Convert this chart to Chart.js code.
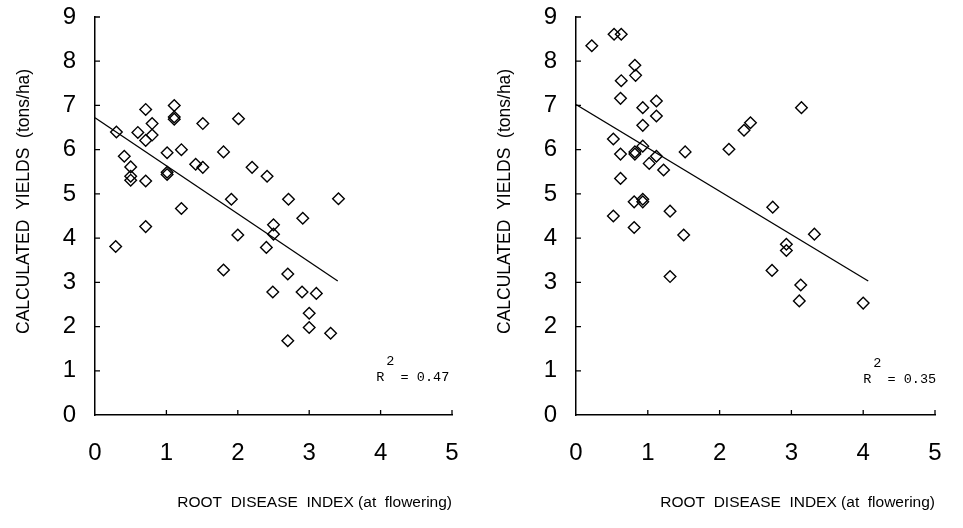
<!DOCTYPE html>
<html><head><meta charset="utf-8">
<script src="https://cdn.jsdelivr.net/npm/chart.js@4/dist/chart.umd.min.js"></script>
<style>
html,body{margin:0;padding:0;background:#fff;}
#wrap{position:relative;width:963px;height:528px;overflow:hidden;}
canvas{position:absolute;top:0;}
</style></head><body>
<div id="wrap">
<canvas id="c1" width="481" height="528" style="left:0"></canvas>
<canvas id="c2" width="482" height="528" style="left:481px"></canvas>
</div>
<script>
const xTicks = [0, 1, 2, 3, 4, 5];
const yTicks = [0, 1, 2, 3, 4, 5, 6, 7, 8, 9];

const leftX = [0.71,1.11,1.11,1.11,0.80,1.51,2.01,0.30,0.60,0.71,0.80,1.01,1.21,1.80,0.41,0.50,0.50,0.50,0.71,1.01,1.01,1.41,1.51,2.20,2.41,1.91,1.21,0.71,2.50,2.50,2.00,2.40,0.29,1.80,2.49,2.71,3.41,2.91,2.70,2.90,3.10,3.00,3.00,3.30,2.70];
const leftY = [6.91,7.00,6.74,6.69,6.59,6.59,6.70,6.40,6.39,6.21,6.33,5.93,6.00,5.95,5.85,5.61,5.40,5.31,5.29,5.49,5.44,5.67,5.60,5.60,5.40,4.88,4.67,4.26,4.30,4.09,4.07,3.79,3.81,3.28,2.78,4.88,4.89,4.45,3.19,2.78,2.75,2.30,1.98,1.85,1.68];

const rightX = [0.22,0.53,0.63,0.82,0.83,0.63,0.62,0.93,1.12,1.12,0.93,0.52,0.93,0.82,0.82,0.62,1.12,1.02,1.22,1.52,2.13,0.62,0.81,0.93,0.93,0.52,1.31,0.81,1.50,1.31,3.14,2.43,2.34,2.74,3.32,2.93,2.93,2.73,3.13,3.11,4.00];
const rightY = [8.35,8.61,8.61,7.91,7.68,7.56,7.16,6.95,7.10,6.76,6.55,6.24,6.08,5.95,5.90,5.90,5.85,5.69,5.54,5.95,6.01,5.35,4.82,4.88,4.82,4.50,4.61,4.24,4.07,3.13,6.95,6.61,6.44,4.70,4.09,3.86,3.72,3.27,2.94,2.58,2.53];

const leftFitX = [0, 3.40];
const leftFitY = [6.72, 3.03];
const rightFitX = [0, 4.07];
const rightFitY = [7.02, 3.03];

const leftR2 = '0.47';
const rightR2 = '0.35';
const leftR2At = [3.94, 0.85];
const rightR2At = [4.0, 0.80];

const xTitle = 'ROOT  DISEASE  INDEX (at  flowering)';
const yTitle = 'CALCULATED  YIELDS  (tons/ha)';

const pts = (xs, ys) => xs.map((x, i) => ({x: x, y: ys[i]}));

const axisDeco = {
  id: 'axisDeco',
  afterDraw(chart, args, opts) {
    const ctx = chart.ctx, xs = chart.scales.x, ys = chart.scales.y;
    ctx.save();
    ctx.strokeStyle = '#000';
    ctx.lineWidth = 1.3;
    ctx.beginPath();
    yTicks.forEach(v => {
      if (v === 0) return;
      const py = ys.getPixelForValue(v);
      ctx.moveTo(xs.left, py); ctx.lineTo(xs.left + 5, py);
    });
    xTicks.forEach(v => {
      if (v === 0) return;
      const px = xs.getPixelForValue(v);
      ctx.moveTo(px, ys.bottom); ctx.lineTo(px, ys.bottom - 5);
    });
    ctx.stroke();
    ctx.fillStyle = '#000';
    ctx.font = '13.5px "Liberation Mono"';
    ctx.textBaseline = 'middle';
    ctx.textAlign = 'left';
    const px = xs.getPixelForValue(opts.at[0]);
    const py = ys.getPixelForValue(opts.at[1]);
    ctx.fillText('R  = ' + opts.r2, px, py);
    ctx.fillText('2', px + 10, py - 16);
    ctx.restore();
  }
};

function makeChart(id, xs, ys, fx, fy, r2, at, padRight) {
  return new Chart(document.getElementById(id), {
    type: 'scatter',
    data: {
      datasets: [
        {
          data: pts(xs, ys),
          pointStyle: 'rectRot',
          pointRadius: 5.8,
          pointBorderWidth: 1.4,
          borderColor: '#000',
          backgroundColor: 'rgba(255,255,255,0)',
          pointBackgroundColor: 'rgba(255,255,255,0)',
          pointBorderColor: '#000'
        },
        {
          type: 'line',
          data: pts(fx, fy),
          borderColor: '#000',
          borderWidth: 1.3,
          pointRadius: 0,
          fill: false
        }
      ]
    },
    options: {
      responsive: false,
      animation: false,
      events: [],
      layout: { padding: { left: 0, right: padRight, top: 17, bottom: 0 } },
      plugins: { legend: { display: false }, tooltip: { enabled: false }, axisDeco: { r2: r2, at: at } },
      scales: {
        x: {
          type: 'linear', min: 0, max: 5,
          afterBuildTicks: s => { s.ticks = xTicks.map(v => ({value: v})); },
          afterFit: s => { s.height = 113; s.paddingLeft = 0; s.paddingRight = 0; },
          grid: { display: true, drawOnChartArea: false, drawTicks: false },
          border: { display: true, color: '#000', width: 1.5 },
          ticks: { color: '#000', padding: 24, font: { family: '"Liberation Sans"', size: 24 } },
          title: { display: true, text: xTitle, align: 'end', color: '#000', padding: { top: 0, bottom: 16 }, font: { family: '"Liberation Sans"', size: 15.5 } }
        },
        y: {
          type: 'linear', min: 0, max: 9,
          afterBuildTicks: s => { s.ticks = yTicks.map(v => ({value: v})); },
          afterFit: s => { s.width = 95; s.paddingTop = 0; s.paddingBottom = 0; },
          grid: { display: true, drawOnChartArea: false, drawTicks: false },
          border: { display: true, color: '#000', width: 1.5 },
          ticks: { color: '#000', padding: 19, font: { family: '"Liberation Sans"', size: 24 } },
          title: { display: true, text: '      ' + yTitle, color: '#000', padding: { top: 14, bottom: 0 }, font: { family: '"Liberation Sans"', size: 17.5 } }
        }
      }
    },
    plugins: [axisDeco]
  });
}

makeChart('c1', leftX, leftY, leftFitX, leftFitY, leftR2, leftR2At, 29);
makeChart('c2', rightX, rightY, rightFitX, rightFitY, rightR2, rightR2At, 28);
</script>
</body></html>
